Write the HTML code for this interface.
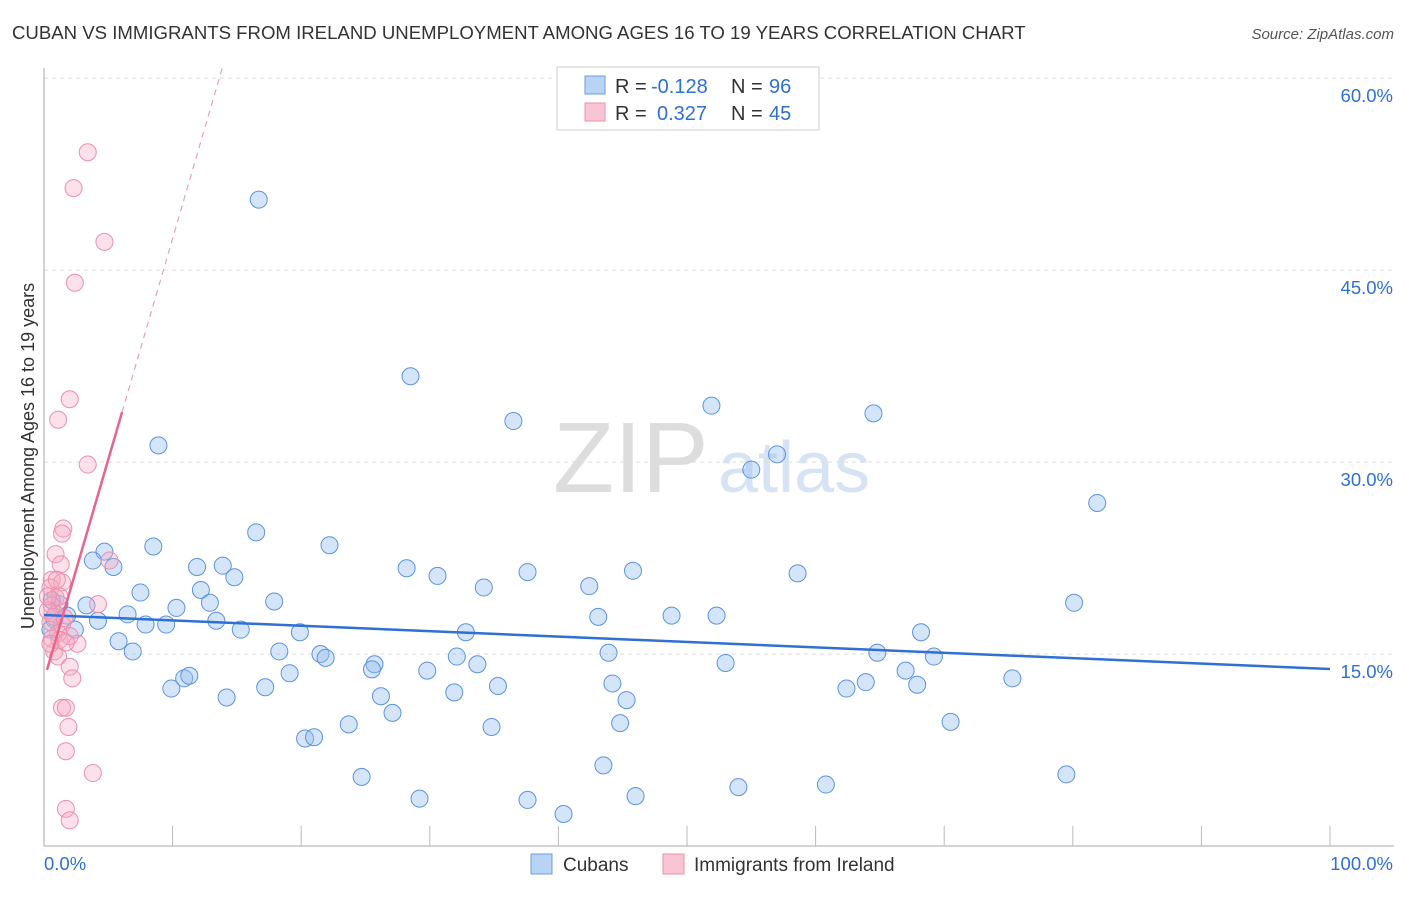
<!DOCTYPE html>
<html><head><meta charset="utf-8"><style>
body{margin:0;background:#fff;font-family:"Liberation Sans",sans-serif;}
svg text{font-family:"Liberation Sans",sans-serif;}
</style></head><body>
<svg id="chart" width="1406" height="892" xmlns="http://www.w3.org/2000/svg">
<text x="12" y="39" font-size="18.6" fill="#333">CUBAN VS IMMIGRANTS FROM IRELAND UNEMPLOYMENT AMONG AGES 16 TO 19 YEARS CORRELATION CHART</text>
<text x="1394" y="39" font-size="15" fill="#555" text-anchor="end" font-style="italic">Source: ZipAtlas.com</text>
<text x="553" y="492" font-size="100" fill="#ddd" font-family="Liberation Serif">ZIP</text>
<text x="718" y="492" font-size="72" fill="#d5e3f5">atlas</text>
<g id="grid"></g><g id="axes"></g><g id="marks"></g>
<text transform="translate(34,456) rotate(-90)" font-size="18" fill="#333" text-anchor="middle">Unemployment Among Ages 16 to 19 years</text>
<g>
<rect x="557" y="67" width="262" height="63" fill="#fff" stroke="#ccc"/>
<rect x="585" y="76" width="20" height="18" fill="#b9d3f5" stroke="#6a9be0"/>
<rect x="585" y="103" width="20" height="18" fill="#f9c5d4" stroke="#ec8fab"/>
<text x="615" y="93" font-size="20" fill="#333">R =</text>
<text x="651" y="93" font-size="20" fill="#2f6fd6">-0.128</text>
<text x="731" y="93" font-size="20" fill="#333">N =</text>
<text x="769" y="93" font-size="20" fill="#2f6fd6">96</text>
<text x="615" y="120" font-size="20" fill="#333">R =</text>
<text x="657" y="120" font-size="20" fill="#2f6fd6">0.327</text>
<text x="731" y="120" font-size="20" fill="#333">N =</text>
<text x="769" y="120" font-size="20" fill="#2f6fd6">45</text>
</g>
<g>
<rect x="531" y="854" width="21" height="20" fill="#b9d3f5" stroke="#6a9be0"/>
<text x="563" y="871" font-size="19" fill="#333">Cubans</text>
<rect x="663" y="854" width="21" height="20" fill="#f9c5d4" stroke="#ec8fab"/>
<text x="694" y="871" font-size="19" fill="#333">Immigrants from Ireland</text>
</g>
</svg>
<script>
const yTicks=[15,30,45,60];
const yTickLabels=["15.0%","30.0%","45.0%","60.0%"];
const xEndLabels=["0.0%","100.0%"];
const cubanX=[16.7,28.5,36.5,51.9,64.5,8.9,55,57,81.9,16.5,22.2,8.5,4.7,3.8,5.4,11.9,13.9,14.8,28.2,30.6,37.6,45.8,58.6,42.4,34.2,7.5,12.2,17.9,12.9,80.1,10.3,6.5,3.3,43.1,48.8,52.3,4.2,7.9,9.5,13.4,15.3,19.9,32.8,68.2,5.8,6.9,18.3,21.5,21.9,43.9,64.8,32.1,69.2,25.7,25.5,33.7,53.0,67.0,19.1,29.8,10.9,11.3,44.2,75.3,9.9,17.2,35.3,63.9,62.4,67.9,14.2,26.2,31.9,45.3,27.1,23.7,34.8,44.8,70.5,20.3,21,43.5,24.7,79.5,54,60.8,29.2,37.6,46,40.4,1.2,0.8,1.8,0.5,0.6,2.4];
const cubanY=[50.5,36.7,33.2,34.4,33.8,31.3,29.4,30.6,26.8,24.5,23.5,23.4,23.0,22.3,21.8,21.8,21.9,21.0,21.7,21.1,21.4,21.5,21.3,20.3,20.2,19.8,20.0,19.1,19.0,19.0,18.6,18.1,18.8,17.9,18.0,18.0,17.6,17.3,17.3,17.6,16.9,16.7,16.7,16.7,16.0,15.2,15.2,15.0,14.7,15.1,15.1,14.8,14.8,14.2,13.8,14.2,14.3,13.7,13.5,13.7,13.1,13.3,12.7,13.1,12.3,12.4,12.5,12.8,12.3,12.6,11.6,11.7,12.0,11.4,10.4,9.5,9.3,9.6,9.7,8.4,8.5,6.3,5.4,5.6,4.6,4.8,3.7,3.6,3.9,2.5,18.9,17.7,18.0,16.9,19.2,16.9];
const irishX=[3.4,2.3,4.7,2.4,2.0,1.1,3.4,1.5,1.4,0.9,1.3,0.6,1.4,0.5,0.9,4.2,1.2,0.6,0.9,0.5,1.4,1.1,2.0,2.6,0.8,1.1,2.0,2.2,1.4,1.7,1.9,1.7,3.8,1.7,2.0,0.6,0.3,5.1,0.8,1.2,0.5,1.6,1.0,1.7,0.3];
const irishY=[54.2,51.4,47.2,44.0,34.9,33.3,29.8,24.8,24.4,22.8,22.0,20.8,20.6,20.2,19.4,18.9,19.5,18.8,18.1,17.5,17.3,16.6,16.4,15.8,15.2,14.8,14.0,13.1,10.8,10.8,9.3,7.4,5.7,2.9,2.0,16.2,18.4,22.3,17.9,16.1,15.8,17.8,20.8,15.9,19.5];
const blueTrend=[18.05,13.83];
const pinkTrend=[13.75,3.45];
const NS="http://www.w3.org/2000/svg";
const X=v=>44+v/100*1286, Y=v=>846-v/15*192;
function mk(t,a,p){const e=document.createElementNS(NS,t);for(const k in a)e.setAttribute(k,a[k]);p.appendChild(e);return e;}
const grid=document.getElementById('grid'),axes=document.getElementById('axes'),marks=document.getElementById('marks');
yTicks.forEach((t,i)=>{
 const l=mk('line',{x1:44,x2:1394,y1:Y(t),y2:Y(t),stroke:'#ddd','stroke-dasharray':'4,4'},grid);
 
 
 const tx=mk('text',{x:1393,y:Y(t)+24,'font-size':18.5,fill:'#2f6fd6','text-anchor':'end'},axes);
 tx.textContent=yTickLabels[i];
 
 
});
const ax=mk('line',{x1:44,x2:44,y1:68,y2:846,stroke:'#aaa'},axes);


const bx=mk('line',{x1:44,x2:1394,y1:846,y2:846,stroke:'#aaa'},axes);


for(let i=1;i<=10;i++){const t=mk('line',{x1:X(i*10),x2:X(i*10),y1:826,y2:846,stroke:'#bbb'},axes);
 
 }
const xl0=mk('text',{x:44,y:870,'font-size':18.5,fill:'#2f6fd6'},axes);xl0.textContent=xEndLabels[0];


const xl1=mk('text',{x:1393,y:870,'font-size':18.5,fill:'#2f6fd6','text-anchor':'end'},axes);xl1.textContent=xEndLabels[1];


cubanX.forEach((v,i)=>{const c=mk('circle',{cx:X(v),cy:Y(cubanY[i]),r:8.5,fill:'rgba(150,190,240,0.4)',stroke:'#5b93e0','stroke-width':1},marks);
 
 });
irishX.forEach((v,i)=>{const c=mk('circle',{cx:X(v),cy:Y(irishY[i]),r:8.5,fill:'rgba(245,170,195,0.35)',stroke:'#ec8fab','stroke-width':1},marks);
 
 });
const bl=mk('line',{x1:X(0),y1:Y(blueTrend[0]),x2:X(100),y2:Y(blueTrend[1]),stroke:'#2f6fd6','stroke-width':2.5},marks);


const py=x=>pinkTrend[0]+pinkTrend[1]*(x-0.23);
const pl=mk('line',{x1:X(0.23),y1:Y(py(0.23)),x2:X(6.07),y2:Y(py(6.07)),stroke:'#e8648d','stroke-width':2.5},marks);


const xe=0.23+(61-pinkTrend[0])/pinkTrend[1];
const pd=mk('line',{x1:X(6.07),y1:Y(py(6.07)),x2:X(xe),y2:Y(py(xe)),stroke:'#eaa0b8','stroke-width':1.2,'stroke-dasharray':'6,5'},marks);


</script>
</body></html>
